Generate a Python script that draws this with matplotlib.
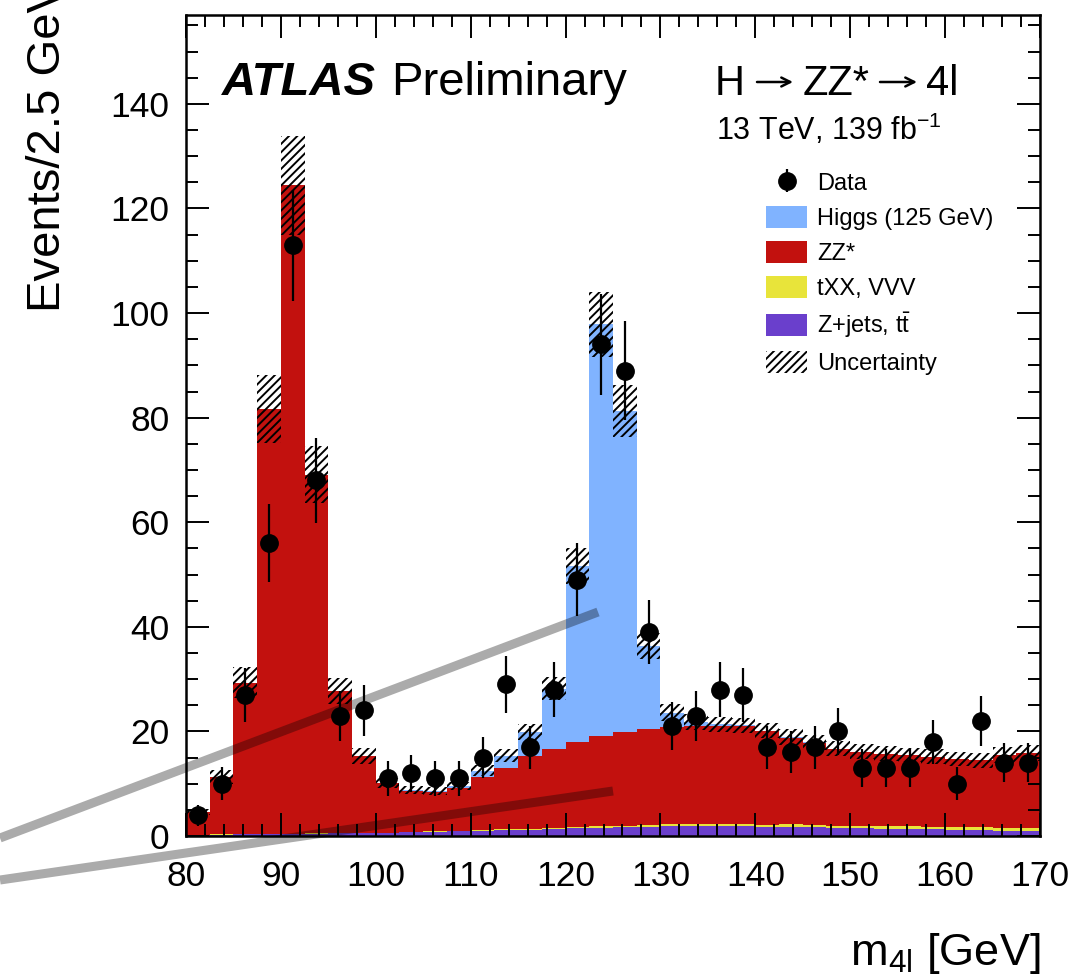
import numpy as np
import matplotlib
matplotlib.use("Agg")
import matplotlib.pyplot as plt
from matplotlib.patches import Patch

plt.rcParams['font.family'] = ['Liberation Sans', 'DejaVu Sans']
plt.rcParams['mathtext.fontset'] = 'custom'
plt.rcParams['mathtext.rm'] = 'Liberation Sans'
plt.rcParams['mathtext.it'] = 'Liberation Sans:italic'
plt.rcParams['mathtext.bf'] = 'Liberation Sans:bold'
plt.rcParams['hatch.linewidth'] = 1.4

# bin edges of m4l, 2.5 GeV bins
edges = np.arange(80, 170.01, 2.5)
centers = edges[:-1] + 1.25

# stacked backgrounds (events per bin)
zjets = [0.2, 0.25, 0.3, 0.35, 0.4, 0.45, 0.5, 0.55, 0.6, 0.7, 0.8, 0.9, 1.0, 1.1, 1.2, 1.4, 1.5, 1.6,
         1.7, 1.8, 1.9, 1.9, 1.9, 1.9, 1.8, 1.8, 1.7, 1.6, 1.5, 1.4, 1.4, 1.3, 1.2, 1.1, 1.0, 1.0]
txx = [0.05, 0.05, 0.05, 0.05, 0.05, 0.05, 0.05, 0.05, 0.05, 0.1, 0.1, 0.1, 0.1, 0.15, 0.15, 0.2, 0.2, 0.25,
       0.25, 0.3, 0.3, 0.3, 0.35, 0.35, 0.35, 0.4, 0.4, 0.4, 0.45, 0.45, 0.5, 0.5, 0.55, 0.55, 0.6, 0.6]
zz = [4.4, 11.0, 29.0, 81.3, 124.0, 68.6, 27.2, 14.7, 9.5, 7.8, 7.5, 8.1, 10.2, 11.7, 14.0, 15.1, 16.2, 17.2,
      17.9, 18.4, 18.7, 18.9, 18.7, 18.7, 17.9, 16.6, 15.7, 14.7, 14.2, 13.9, 13.6, 13.4, 13.0, 12.8, 13.9, 14.3]
higgs = [0, 0, 0, 0, 0, 0, 0, 0, 0, 0.2, 0.2, 0.5, 1.2, 2.4, 4.6, 11.5, 33.7, 78.8,
         61.4, 15.8, 2.7, 0.7, 0.4, 0.2, 0.1, 0.1, 0.1, 0, 0, 0, 0, 0, 0, 0, 0, 0]
unc = [0.6, 1.3, 3.0, 6.5, 9.5, 5.5, 2.5, 1.5, 1.0, 0.8, 0.8, 0.8, 1.0, 1.2, 1.5, 2.2, 3.5, 6.2,
       5.0, 2.5, 1.6, 1.5, 1.5, 1.5, 1.5, 1.5, 1.5, 1.4, 1.4, 1.4, 1.4, 1.4, 1.4, 1.4, 1.5, 1.5]

# data
data = [4, 10, 27, 56, 113, 68, 23, 24, 11, 12, 11, 11, 15, 29, 17, 28, 49, 94,
        89, 39, 21, 23, 28, 27, 17, 16, 17, 20, 13, 13, 13, 18, 10, 22, 14, 14]
data_err = [2.0, 3.2, 5.2, 7.5, 10.6, 8.2, 4.8, 4.9, 3.3, 3.5, 3.3, 3.3, 3.9, 5.4, 4.1, 5.3, 7.0, 9.7,
            9.4, 6.2, 4.6, 4.8, 5.3, 5.2, 4.1, 4.0, 4.1, 4.5, 3.6, 3.6, 3.6, 4.2, 3.2, 4.7, 3.7, 3.7]

c_higgs = '#80b3ff'
c_zz = '#c2110e'
c_txx = '#e8e43a'
c_zjets = '#6a3fcc'

fig = plt.figure(figsize=(10.76, 9.8), dpi=100)
ax = fig.add_axes([186/1076, 1-836/980, (1040-186)/1076, (836-15)/980])

b0 = np.zeros(len(zz))
b1 = b0 + np.array(zjets)
b2 = b1 + np.array(txx)
b3 = b2 + np.array(zz)
b4 = b3 + np.array(higgs)
ax.stairs(b1, edges, baseline=b0, fill=True, color=c_zjets, lw=0)
ax.stairs(b2, edges, baseline=b1, fill=True, color=c_txx, lw=0)
ax.stairs(b3, edges, baseline=b2, fill=True, color=c_zz, lw=0)
ax.stairs(b4, edges, baseline=b3, fill=True, color=c_higgs, lw=0)

u = np.array(unc)
ax.bar(centers, 2*u, bottom=b4-u, width=2.5, fill=False, hatch='////', lw=0, edgecolor='black')

dat = ax.errorbar(centers, data, yerr=data_err, fmt='o', color='black', ms=12.5, elinewidth=1.6, capsize=0)

ax.set_xlim(80, 170)
ax.set_ylim(0, 157)
ax.set_xticks(np.arange(80, 171, 10))
ax.set_xticks(np.arange(80, 171, 2), minor=True)
ax.set_yticks(np.arange(0, 141, 20))
ax.set_yticks(np.arange(0, 156, 5), minor=True)
ax.tick_params(which='both', direction='in', top=True, right=True, width=1.4, labelsize=25.5)
ax.tick_params(which='major', length=16.5)
ax.tick_params(which='minor', length=8.5)
ax.tick_params(axis='x', pad=17)
ax.tick_params(axis='y', pad=12)
for s in ax.spines.values():
    s.set_linewidth(1.8)

fig.text(222/1076, 1-95/980, 'ATLAS', fontsize=34, fontweight='bold', fontstyle='italic', va='baseline')
fig.text(391/1076, 1-95/980, 'Preliminary', fontsize=34, va='baseline')
# H -> ZZ* -> 4l, letters as text, arrows drawn so their length can be set
fig.text(715/1076, 1-95/980, 'H', fontsize=30, va='baseline')
fig.text(803/1076, 1-95/980, 'ZZ*', fontsize=30, va='baseline')
fig.text(926/1076, 1-95/980, '4l', fontsize=30, va='baseline')
for x0, x1 in [(757, 793), (880, 917)]:
    fig.add_artist(plt.Annotation('', xy=(x1/1076, 1-82/980), xytext=(x0/1076, 1-82/980),
                                  xycoords='figure fraction',
                                  arrowprops=dict(arrowstyle='->', lw=1.8, color='black',
                                                  mutation_scale=16, shrinkA=0, shrinkB=0)))
fig.text(716/1076, 1-140/980, '13 TeV, 139 fb$^{-1}$', fontsize=22, va='baseline')

fig.text(48/1076, 1-312/980, 'Events/2.5 GeV', fontsize=34, rotation=90, ha='center', va='bottom')
fig.text(1041/1076, 1-965/980, 'm$_{\\mathrm{4l}}$ [GeV]', fontsize=32.5, ha='right', va='baseline')

handles = [
    dat,
    Patch(facecolor=c_higgs),
    Patch(facecolor=c_zz),
    Patch(facecolor=c_txx),
    Patch(facecolor=c_zjets),
    Patch(facecolor='none', edgecolor='black', hatch='////', lw=0),
]
labels = ['Data', 'Higgs (125 GeV)', 'ZZ*', 'tXX, VVV', 'Z+jets, t$\\bar{\\mathrm{t}}$', 'Uncertainty']
fig.legend(handles, labels, loc='upper left', bbox_to_anchor=(766/1076, 1-171/980), frameon=False,
           fontsize=17, handlelength=1.75, handleheight=1.05, labelspacing=0.46, handletextpad=0.4,
           borderpad=0, borderaxespad=0)

# grey zoom guide lines across the picture
fig.add_artist(plt.Line2D([0, 598/1076], [1-838/980, 1-612/980], transform=fig.transFigure,
                          color='black', alpha=0.33, lw=6.5, solid_capstyle='butt'))
fig.add_artist(plt.Line2D([0, 613/1076], [1-880/980, 1-791/980], transform=fig.transFigure,
                          color='black', alpha=0.33, lw=6.5, solid_capstyle='butt'))

fig.savefig('out.png', dpi=100)
